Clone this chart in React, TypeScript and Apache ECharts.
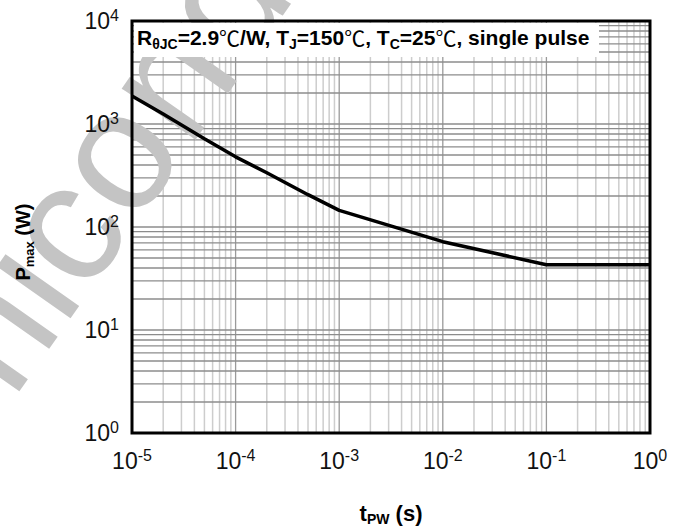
import React, { useEffect, useRef } from "react";
import * as echarts from "echarts";

// ---- data ----
const pulseWidth = [1e-5, 2e-5, 5e-5, 1e-4, 2e-4, 5e-4, 1e-3, 1e-2, 1e-1, 1];
const maxPower = [1870, 1250, 720, 480, 336, 206, 145, 72, 43, 43];

// axis ranges / tick decades
const xMin = 1e-5;
const xMax = 1;
const yMin = 1;
const yMax = 1e4;
const xDecades = [-5, -4, -3, -2, -1, 0];
const yDecades = [0, 1, 2, 3, 4];
const minorSteps = [2, 3, 4, 5, 6, 7, 8, 9];

const annotationText =
  "{m|R}{s|θJC}{m|=2.9}{c|℃}{m|/W, T}{s|J}{m|=150}{c|℃}{m|, T}{s|C}{m|=25}{c|℃}{m|, single pulse}";
const yName = "{m|P}{s|max}{m| (W)}";
const xName = "{m|t}{s|PW}{m| (s)}";
const watermark = "Semiconductor";

// gridline positions (decades + minor 2..9)
function buildGrid(decades: number[]) {
  const vals: number[] = [];
  const major: boolean[] = [];
  decades.forEach((e, i) => {
    vals.push(Math.pow(10, e));
    major.push(true);
    if (i < decades.length - 1) {
      minorSteps.forEach((k) => {
        vals.push(k * Math.pow(10, e));
        major.push(false);
      });
    }
  });
  return { vals, major };
}

const GRID = { left: 132, top: 21, width: 518, height: 412 };
const FONT = '"Liberation Sans", Arial, sans-serif';

export default function App() {
  const ref = useRef<HTMLDivElement>(null);

  useEffect(() => {
    if (!ref.current) return;
    const chart = echarts.init(ref.current, undefined, { renderer: "svg" });
    const xg = buildGrid(xDecades);
    const yg = buildGrid(yDecades);

    const labelRich = {
      b: { fontFamily: FONT, fontSize: 23, lineHeight: 28, color: "#111" },
      s: { fontFamily: FONT, fontSize: 16, lineHeight: 16, padding: [0, 0, 12, 0], color: "#111" },
    };
    const fmt = (v: number) => `{b|10}{s|${Math.round(Math.log10(v))}}`;

    const nameRich = (main: number, sub: number, pad: number) => ({
      m: { fontFamily: FONT, fontWeight: "bold", fontSize: main, lineHeight: main + 4, fill: "#000", color: "#000" },
      s: {
        fontFamily: FONT,
        fontWeight: "bold",
        fontSize: sub,
        lineHeight: sub,
        padding: [pad, 0, 0, 0],
        fill: "#000",
        color: "#000",
      },
    });

    const option: any = {
      animation: false,
      backgroundColor: "#fff",
      grid: { ...GRID, containLabel: false, outerBoundsMode: "none" },
      xAxis: {
        type: "log",
        logBase: 10,
        min: xMin,
        max: xMax,
        z: 6,
        axisLine: { show: false },
        axisTick: { show: false },
        splitLine: { show: false },
        minorSplitLine: { show: false },
        axisLabel: { margin: 14, formatter: fmt, rich: labelRich },
      },
      yAxis: {
        type: "log",
        logBase: 10,
        min: yMin,
        max: yMax,
        z: 6,
        axisLine: { show: false },
        axisTick: { show: false },
        splitLine: { show: false },
        minorSplitLine: { show: false },
        axisLabel: { margin: 13, formatter: fmt, rich: labelRich },
      },
      graphic: [
        {
          type: "text",
          x: -185,
          y: 580,
          rotation: (55 * Math.PI) / 180,
          z: 2,
          silent: true,
          style: {
            text: watermark,
            fontFamily: FONT,
            fontSize: 170,
            fill: "#c4c4c4",
            align: "left",
            verticalAlign: "middle",
          },
        },
        {
          type: "rect",
          z: 3,
          shape: { x: 134, y: 23, width: 465, height: 34 },
          style: { fill: "#fff" },
        },
        {
          type: "text",
          z: 3,
          x: 137,
          y: 37,
          style: {
            text: annotationText,
            align: "left",
            verticalAlign: "middle",
            rich: {
              ...nameRich(21, 14, 13),
              c: { fontFamily: '"Noto Sans CJK SC", sans-serif', fontSize: 21, lineHeight: 25, fill: "#000", color: "#000" },
            },
          },
        },
        {
          type: "text",
          z: 6,
          x: 23,
          y: 242,
          rotation: Math.PI / 2,
          style: { text: yName, align: "center", verticalAlign: "middle", rich: nameRich(20, 13, 12) },
        },
        {
          type: "text",
          z: 6,
          x: 391,
          y: 513,
          style: { text: xName, align: "center", verticalAlign: "middle", rich: nameRich(22, 14, 12) },
        },
        {
          type: "rect",
          z: 7,
          shape: { x: GRID.left, y: GRID.top, width: GRID.width, height: GRID.height },
          style: { fill: "none", stroke: "#000", lineWidth: 3 },
        },
      ],
      series: [
        {
          type: "custom",
          z: 1,
          silent: true,
          data: xg.vals.map((v) => [v, yMin]),
          renderItem: (params: any, api: any) => {
            const cs = params.coordSys;
            const x = api.coord([api.value(0), yMin])[0];
            const major = xg.major[params.dataIndex];
            return {
              type: "line",
              shape: { x1: x, y1: cs.y, x2: x, y2: cs.y + cs.height },
              style: { stroke: major ? "#9a9a9a" : "#cdcdcd", lineWidth: major ? 1.3 : 1.5 },
            };
          },
        },
        {
          type: "custom",
          z: 1,
          silent: true,
          data: yg.vals.map((v) => [xMin, v]),
          renderItem: (params: any, api: any) => {
            const cs = params.coordSys;
            const y = api.coord([xMin, api.value(1)])[1];
            return {
              type: "line",
              shape: { x1: cs.x, y1: y, x2: cs.x + cs.width, y2: y },
              style: { stroke: "#8c8c8c", lineWidth: 1.3 },
            };
          },
        },
        {
          type: "line",
          z: 4,
          showSymbol: false,
          symbol: "none",
          data: pulseWidth.map((t, i) => [t, maxPower[i]]),
          lineStyle: { color: "#000", width: 3.5 },
        },
      ],
    };
    chart.setOption(option);
    return () => chart.dispose();
  }, []);

  return (
    <div
      ref={ref}
      style={{ position: "fixed", left: 0, top: 0, width: 686, height: 531, background: "#fff" }}
    />
  );
}
